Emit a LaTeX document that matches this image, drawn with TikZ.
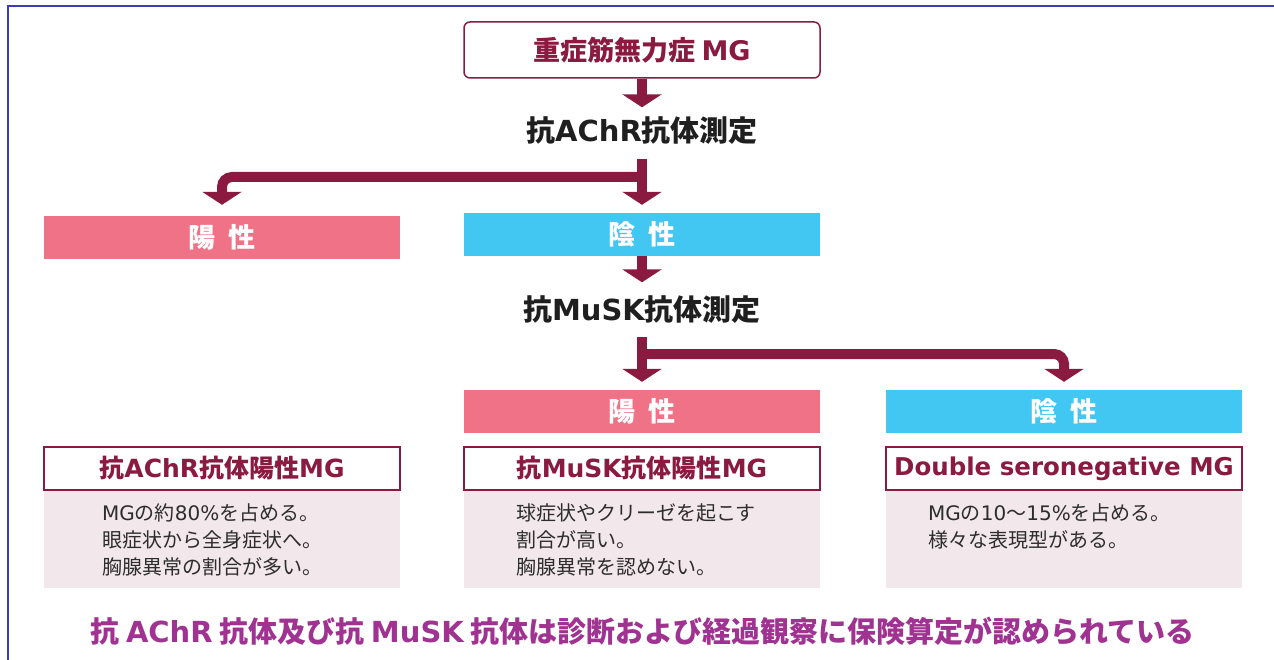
\documentclass[tikz,border=0pt]{standalone}
\usepackage{fontspec}
\setmainfont{Noto Sans CJK JP}
\newfontfamily\latfont{DejaVu Sans}
\newcommand\LT[1]{{\latfont #1}}
\usetikzlibrary{arrows.meta}
\definecolor{maroon}{RGB}{138,26,64}
\definecolor{pinkbox}{RGB}{240,114,135}
\definecolor{cyanbox}{RGB}{66,198,242}
\definecolor{bodybg}{RGB}{242,231,235}
\definecolor{frameblue}{RGB}{60,60,180}
\definecolor{footpurple}{RGB}{160,50,145}
\definecolor{bodytext}{RGB}{45,45,45}
\tikzset{
  flow/.style={draw=maroon, line width=10pt, -{Triangle[width=39pt,length=13pt]}},
  topbox/.style={draw=maroon, line width=1.5pt, rounded corners=6pt, fill=white,
    minimum width=356pt, minimum height=56pt, inner sep=0pt, text=maroon,
    font=\fontsize{27}{32}\selectfont\bfseries},
  steptext/.style={inner sep=0pt, text height=22pt, text depth=5pt,
    font=\fontsize{29}{34}\selectfont\bfseries, text=black!88},
  posbox/.style={fill=pinkbox, minimum width=356pt, minimum height=43pt, inner sep=0pt,
    text=white, font=\fontsize{27}{32}\selectfont\bfseries},
  negbox/.style={posbox, fill=cyanbox},
  headbox/.style={draw=maroon, line width=1.5pt, fill=white, minimum width=356pt,
    minimum height=43pt, inner sep=0pt, text=maroon, font=\fontsize{25}{28}\selectfont\bfseries},
  bodybox/.style={fill=bodybg, minimum width=356pt, minimum height=98pt, inner sep=0pt},
  bodytxt/.style={inner sep=0pt, align=left, anchor=west, text=bodytext,
    font=\fontsize{20}{27}\selectfont},
  foot/.style={inner sep=0pt, text=footpurple, font=\fontsize{29}{33}\selectfont\bfseries}
}
\begin{document}
\begin{tikzpicture}[x=1pt,y=-1pt]
\useasboundingbox (0,0) rectangle (1274,660);
\fill[white] (0,0) rectangle (1274,660);
\draw[frameblue, line width=2.5pt] (8,662) -- (8,6) -- (1276,6);

% top
\node[topbox] (top) at (642,50) {重症筋無力症 \LT{MG}};
\node[steptext] (achr) at (642,133) {抗\LT{AChR}抗体測定};
\node[posbox] (pos1) at (222,237.5) {陽\hspace{0.45em}性};
\node[negbox] (neg1) at (642,234.5) {陰\hspace{0.45em}性};
\node[steptext] (musk) at (642,312) {抗\LT{MuSK}抗体測定};
\node[posbox] (pos2) at (642,411.5) {陽\hspace{0.45em}性};
\node[negbox] (neg2) at (1064,411.5) {陰\hspace{0.45em}性};

\coordinate (split1) at (642,177);
\coordinate (split2) at (642,354);

\draw[flow, shorten >=12pt] (top.south) -- (achr.north);
\draw[flow, shorten <=12pt, shorten >=8pt] (achr.south) -- (neg1.north);
\draw[flow, rounded corners=10pt, shorten >=11pt] (split1) -| (pos1.north);
\draw[flow, shorten >=16pt] (neg1.south) -- (musk.north);
\draw[flow, shorten <=11pt, shorten >=8pt] (musk.south) -- (pos2.north);
\draw[flow, rounded corners=10pt, shorten >=8pt] (split2) -| (neg2.north);

% bottom boxes
\node[bodybox] (b1) at (222,539) {};
\node[bodybox] (b2) at (642,539) {};
\node[bodybox] (b3) at (1064,539) {};
\node[headbox] (h1) at (222,468.5) {抗\LT{AChR}抗体陽性\LT{MG}};
\node[headbox] (h2) at (642,468.5) {抗\LT{MuSK}抗体陽性\LT{MG}};
\node[headbox, font=\fontsize{24.5}{28}\selectfont\bfseries] (h3) at (1064,468.5) {\LT{Double seronegative MG}};

\node[bodytxt] (t1) at (102,540) {\LT{MG}の約\LT{80\%}を占める。\\眼症状から全身症状へ。\\胸腺異常の割合が多い。};
\node[bodytxt] (t2) at (516,540) {球症状やクリーゼを起こす\\割合が高い。\\胸腺異常を認めない。};
\node[bodytxt] (t3) at (928,526) {\LT{MG}の\LT{10}〜\LT{15\%}を占める。\\様々な表現型がある。};

\node[foot] (ft) at (642.5,631) {抗 \LT{AChR} 抗体及び抗 \LT{MuSK} 抗体は診断および経過観察に保険算定が認められている};
\end{tikzpicture}
\end{document}
